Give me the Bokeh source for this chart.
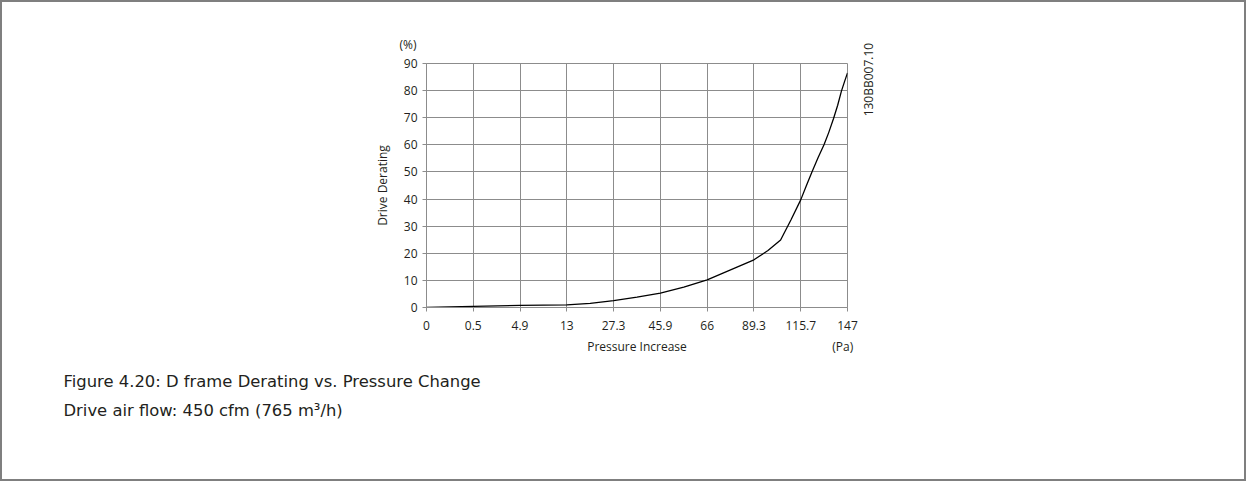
from math import pi
from bokeh.plotting import figure
from bokeh.models import FixedTicker, LinearAxis, Range1d, Title
from bokeh.embed import file_html
from bokeh.resources import INLINE

# ---------------- data ----------------
x_tick_labels = ["0", "0.5", "4.9", "13", "27.3", "45.9", "66", "89.3", "115.7", "147"]
y_ticks = [0, 10, 20, 30, 40, 50, 60, 70, 80, 90]
# curve position along the (non-uniform) pressure axis, in tick-interval units
curve_pos = [0, 1, 2, 3, 3.5, 4, 4.5, 5, 5.5, 6, 6.5, 7, 7.3, 7.57, 7.79, 8, 8.12, 8.24, 8.37, 8.5, 8.6, 8.7, 8.79, 8.87, 8.94, 9]
curve_derating = [0, 0.4, 0.8, 1.0, 1.5, 2.5, 3.8, 5.3, 7.5, 10.2, 13.9, 17.6, 21.0, 24.9, 32.3, 39.7, 44.9, 50.0, 55.2, 60.1, 64.6, 69.6, 74.6, 79.8, 83.5, 86.5]

x_title = "Pressure Increase"
x_unit = "(Pa)"
y_title = "Drive Derating"
y_unit = "(%)"
code_label = "130BB007.10"
caption1 = "Figure 4.20: D frame Derating vs. Pressure Change"
caption2 = "Drive air flow: 450 cfm (765 m\u00b3/h)"

# ---------------- layout ----------------
W, H = 1242, 477
FL, FT, FW, FH = 424, 61, 421, 244
GRID = "#8c8c8c"
TXT = "#231f20"
CHART_FONT = "Open Sans"
CAP_FONT = "DejaVu Sans"

p = figure(frame_width=FW, frame_height=FH,
           min_border_left=FL, min_border_top=FT,
           min_border_right=W - FL - FW, min_border_bottom=H - FT - FH,
           x_range=Range1d(0, len(x_tick_labels) - 1), y_range=Range1d(0, y_ticks[-1]),
           output_backend="svg", toolbar_location=None, tools="")
p.styles = {"border": "2px solid #7f7f7f"}
p.background_fill_color = "white"
p.border_fill_color = "white"
p.outline_line_color = GRID
p.outline_line_width = 1

p.xaxis.ticker = FixedTicker(ticks=list(range(len(x_tick_labels))))
p.xaxis.major_label_overrides = {i: s for i, s in enumerate(x_tick_labels)}
p.yaxis.ticker = FixedTicker(ticks=y_ticks)

for ax in (p.xaxis, p.yaxis):
    ax.axis_line_color = GRID
    ax.major_tick_line_color = GRID
    ax.major_tick_in = 0
    ax.major_tick_out = 4
    ax.minor_tick_line_color = None
    ax.major_label_text_font = CHART_FONT
    ax.major_label_text_font_size = "12px"
    ax.major_label_text_color = TXT
p.xaxis.major_label_standoff = 9
p.yaxis.major_label_standoff = 5

p.yaxis.axis_label = y_title
p.yaxis.axis_label_text_font = CHART_FONT
p.yaxis.axis_label_text_font_size = "12px"
p.yaxis.axis_label_text_font_style = "normal"
p.yaxis.axis_label_text_color = TXT
p.yaxis.axis_label_standoff = 10

p.xgrid.grid_line_color = GRID
p.ygrid.grid_line_color = GRID

p.line(curve_pos, curve_derating, line_color="black", line_width=1.3)

# secondary label axes (text only)
p.extra_x_ranges = {"xlab": Range1d(0, 90)}
p.extra_y_ranges = {"ylab": Range1d(0, 180)}


def text_axis(ax):
    ax.axis_line_color = None
    ax.major_tick_line_color = None
    ax.minor_tick_line_color = None
    ax.major_tick_in = 0
    ax.major_tick_out = 0
    ax.major_label_text_font = CHART_FONT
    ax.major_label_text_font_size = "12px"
    ax.major_label_text_color = TXT
    return ax


xl = text_axis(LinearAxis(x_range_name="xlab", ticker=FixedTicker(ticks=[45, 89]),
                          major_label_overrides={45: x_title, 89: x_unit}))
xl.major_label_standoff = 5
p.add_layout(xl, "below")

yr = text_axis(LinearAxis(y_range_name="ylab", ticker=FixedTicker(ticks=[141]),
                          major_label_overrides={141: code_label}))
yr.major_label_orientation = pi / 2
yr.major_label_standoff = 21
p.add_layout(yr, "right")

p.add_layout(Title(text=y_unit, align="left", offset=-27, text_font=CHART_FONT,
                   text_font_size="12px", text_font_style="normal", text_color=TXT,
                   standoff=21), "above")
for cap, so in ((caption1, 24), (caption2, -8)):
    p.add_layout(Title(text=cap, align="left", offset=-363, text_font=CAP_FONT,
                       text_font_size="16.4px", text_font_style="normal", text_color=TXT,
                       standoff=so), "below")

open("out.html", "w").write(file_html(p, INLINE))
